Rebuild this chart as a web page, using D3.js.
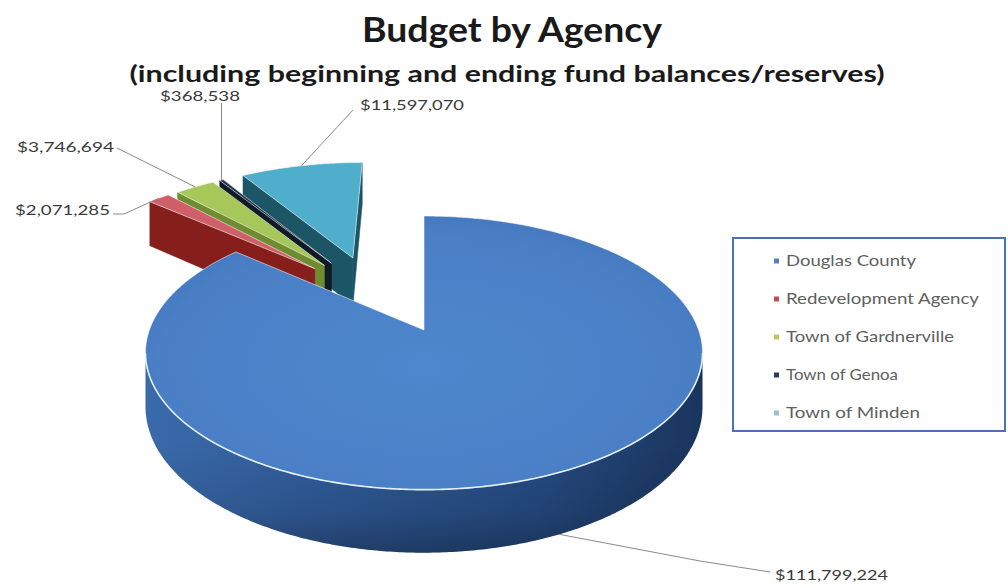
<!DOCTYPE html>
<html>
<head>
<meta charset="utf-8">
<script src="https://cdn.jsdelivr.net/npm/d3@7"></script>
<style>
  body { margin: 0; background: #ffffff; }
  svg { display: block; }
  text { font-family: Lato, "Open Sans", "DejaVu Sans", sans-serif; }
</style>
</head>
<body>
<svg id="chart" width="1008" height="588"></svg>
<script>
// ---- data ----
const agencies = ["Douglas County", "Redevelopment Agency", "Town of Gardnerville", "Town of Genoa", "Town of Minden"];
const budgets = [111799224, 2071285, 3746694, 368538, 11597070];
const chartTitle = "Budget by Agency";
const chartSubtitle = "(including beginning and ending fund balances/reserves)";

// ---- style ----
const topColors = ["#4a80c8", "#cf5f68", "#a6c85b", "#22344c", "#4eaecb"];
const wallColors = ["#2c5590", "#861f1c", "#6f8d30", "#111a26", "#1c5566"];
const legendColors = ["#5a7ec4", "#c0504d", "#c2c45a", "#2d3d55", "#9cbfd2"];
const explode = [0, 0.66, 0.66, 0.66, 0.66];
const pullBlend = 0.5;    // pulled slices lean toward the middle of the pulled group
const pullTilt = -0.09;   // extra turn of the pull direction (radians)

// 3-D projection of the pie (radius = 1 unit, Y = depth toward the back)
const CX = 424, CY = 330, SX = 274.6, SY = 133, K = 0.167, DEPTH = 52.5;
function P(X, Y, z) {
  const w = 1 + K * Y;
  return [CX + SX * X / w, CY - SY * Y / w + z * DEPTH / w];
}

const svg = d3.select("#chart");
const defs = svg.append("defs");

function linGrad(id, x1, y1, x2, y2, stops) {
  const g = defs.append("linearGradient").attr("id", id)
    .attr("gradientUnits", "userSpaceOnUse")
    .attr("x1", x1).attr("y1", y1).attr("x2", x2).attr("y2", y2);
  stops.forEach(s => g.append("stop").attr("offset", s[0]).attr("stop-color", s[1]).attr("stop-opacity", s[2] == null ? 1 : s[2]));
}
linGrad("wallBlue", 147, 0, 705, 0, [[0, "#3a6aaa"], [0.35, "#2f5b99"], [0.7, "#264c84"], [1, "#1a345c"]]);
linGrad("wallShade", 0, 440, 0, 560, [[0, "#000", 0], [0.6, "#000", 0.12], [1, "#000", 0.35]]);
const rg = defs.append("radialGradient").attr("id", "topBlue")
  .attr("cx", "50%").attr("cy", "55%").attr("r", "60%");
rg.append("stop").attr("offset", 0).attr("stop-color", "#4e87cd");
rg.append("stop").attr("offset", 0.8).attr("stop-color", "#4a7fc6");
rg.append("stop").attr("offset", 1).attr("stop-color", "#4274bb");

// ---- pie layout ----
const arcs = d3.pie().sort(null).value(d => d)(budgets);
const pulled = arcs.filter((a, i) => explode[i] > 0);
const groupMid = (d3.min(pulled, a => a.startAngle) + d3.max(pulled, a => a.endAngle)) / 2;

const slices = arcs.map((a, i) => {
  const mid = (a.startAngle + a.endAngle) / 2;
  const dir = explode[i] > 0 ? mid + pullBlend * (groupMid - mid) + pullTilt : mid;
  return { i, a0: a.startAngle, a1: a.endAngle, mid,
           ox: explode[i] * Math.sin(dir), oy: explode[i] * Math.cos(dir) };
});

function ring(s, t, r = 1) { return [s.ox + r * Math.sin(t), s.oy + r * Math.cos(t)]; }
function arcPts(s, z) {
  const n = Math.max(2, Math.ceil((s.a1 - s.a0) / 0.01));
  return d3.range(n + 1).map(j => {
    const q = ring(s, s.a0 + (s.a1 - s.a0) * j / n);
    return P(q[0], q[1], z);
  });
}
// a wall hanging below edge A-B is seen when it drops away from the top face
function facing(A, B, inside) {
  const c1 = B[0] - A[0];
  const c2 = (B[0] - A[0]) * (inside[1] - A[1]) - (B[1] - A[1]) * (inside[0] - A[0]);
  return c1 * c2 < 0;
}
const poly = d3.line().curve(d3.curveLinearClosed);

const pieG = svg.append("g");
const order = slices.slice().sort((a, b) => b.oy - a.oy);

order.forEach(s => {
  const g = pieG.append("g");
  const c0 = P(s.ox, s.oy, 0), c1 = P(s.ox, s.oy, 1);
  const inner = ring(s, s.mid, 0.6), innerP = P(inner[0], inner[1], 0);
  const isMain = s.i === 0;

  // radial walls
  [s.a0, s.a1].forEach(t => {
    const q = ring(s, t);
    const p0 = P(q[0], q[1], 0), p1 = P(q[0], q[1], 1);
    if (facing(c0, p0, innerP)) {
      g.append("path").attr("d", poly([c0, p0, p1, c1]))
        .attr("fill", wallColors[s.i])
        .attr("stroke", wallColors[s.i]).attr("stroke-width", 0.5);
    }
  });

  // outer curved wall, only the parts turned toward the viewer
  const top = arcPts(s, 0), bot = arcPts(s, 1);
  let run = null;
  const runs = [];
  for (let j = 0; j < top.length - 1; j++) {
    if (facing(top[j], top[j + 1], c0)) {
      if (!run) { run = [j, j + 1]; runs.push(run); } else run[1] = j + 1;
    } else run = null;
  }
  runs.forEach(r => {
    const pts = top.slice(r[0], r[1] + 1).concat(bot.slice(r[0], r[1] + 1).reverse());
    g.append("path").attr("d", poly(pts))
      .attr("fill", isMain ? "url(#wallBlue)" : wallColors[s.i]);
    if (isMain) g.append("path").attr("d", poly(pts)).attr("fill", "url(#wallShade)");
  });

  // top face
  const face = [c0].concat(top);
  g.append("path").attr("d", poly(face))
    .attr("fill", isMain ? "url(#topBlue)" : topColors[s.i])
    .attr("stroke", "rgba(255,255,255,0.55)").attr("stroke-width", 1)
    .attr("stroke-linejoin", "round");

  // bright rim along the front edge
  runs.forEach(r => {
    g.append("path").attr("d", d3.line()(top.slice(r[0], r[1] + 1)))
      .attr("fill", "none").attr("stroke", "rgba(235,245,255,0.9)").attr("stroke-width", 1.6);
  });
});

// ---- data labels with leader lines ----
const fmt = d3.format("$,");
function outerTop(s) { const q = ring(s, s.mid); return P(q[0], q[1], 0); }
function outerBottom(s) { const q = ring(s, s.mid); return P(q[0], q[1], 1); }

const labelLayout = [
  { x: 775, y: 575, anchor: "start", w: 113, from: outerBottom, via: [[700, 561], [770, 572]] },
  { x: 110, y: 210, anchor: "end", w: 95, from: outerTop, via: [[124, 214], [113, 214]] },
  { x: 114, y: 147, anchor: "end", w: 97, from: outerTop, via: [[117, 148]] },
  { x: 240, y: 96, anchor: "end", w: 80, from: outerTop, via: "up" },
  { x: 360, y: 105, anchor: "start", w: 104, from: outerTop, via: [[353, 110]] }
];

const labG = svg.append("g");
slices.forEach(s => {
  const L = labelLayout[s.i];
  const a = L.from(s);
  const pts = L.via === "up" ? [a, [a[0], 103]] : [a].concat(L.via);
  labG.append("path").attr("d", d3.line()(pts))
    .attr("fill", "none").attr("stroke", "#8a8a8a").attr("stroke-width", 1);
  labG.append("text")
    .attr("x", L.x).attr("y", L.y + 5)
    .attr("text-anchor", L.anchor)
    .attr("font-size", 13.5)
    .attr("fill", "#3a3a3a")
    .attr("textLength", L.w).attr("lengthAdjust", "spacingAndGlyphs")
    .text(fmt(budgets[s.i]));
});

// ---- titles ----
svg.append("text").attr("x", 512).attr("y", 42).attr("text-anchor", "middle")
  .attr("font-size", 35).attr("font-weight", 700).attr("fill", "#1a1a1a")
  .attr("textLength", 300).attr("lengthAdjust", "spacingAndGlyphs")
  .text(chartTitle);
svg.append("text").attr("x", 507).attr("y", 82).attr("text-anchor", "middle")
  .attr("font-size", 23).attr("font-weight", 700).attr("fill", "#1a1a1a")
  .attr("textLength", 755).attr("lengthAdjust", "spacingAndGlyphs")
  .text(chartSubtitle);

// ---- legend ----
const legendWidths = [130, 193, 168, 112, 134];
const leg = svg.append("g");
leg.append("rect").attr("x", 733).attr("y", 238).attr("width", 272).attr("height", 193)
  .attr("fill", "#ffffff").attr("stroke", "#4d6fba").attr("stroke-width", 2);
const rowY = d3.scalePoint().domain(agencies).range([261, 413]);
agencies.forEach((name, i) => {
  const y = rowY(name);
  leg.append("rect").attr("x", 774).attr("y", y - 2.5).attr("width", 5).attr("height", 5)
    .attr("fill", legendColors[i]);
  leg.append("text").attr("x", 786).attr("y", y + 5)
    .attr("font-size", 15).attr("fill", "#5f5f5f")
    .attr("textLength", legendWidths[i]).attr("lengthAdjust", "spacingAndGlyphs")
    .text(name);
});
</script>
</body>
</html>
